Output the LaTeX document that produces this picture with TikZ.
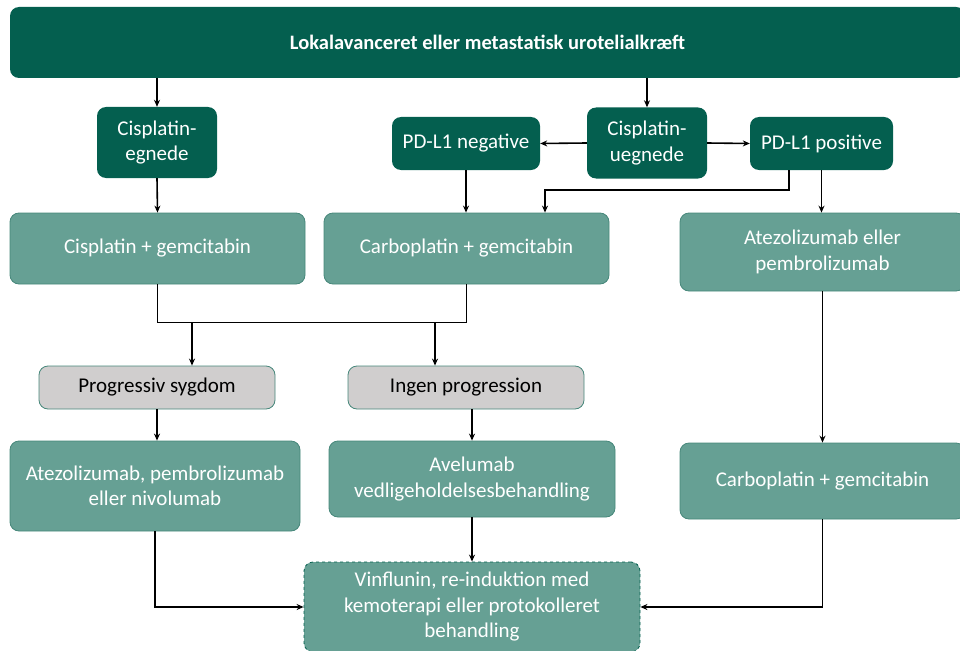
\documentclass[tikz,border=0pt]{standalone}
\usepackage{fontspec}
\setmainfont{Carlito}
\usetikzlibrary{arrows.meta}

\definecolor{darkgreen}{RGB}{4,95,79}
\definecolor{lightteal}{RGB}{102,160,148}
\definecolor{tealedge}{RGB}{70,135,122}
\definecolor{greybox}{RGB}{208,206,206}

\tikzset{%
				every box/.style={
					rectangle,
					rounded corners=9pt,
					align=center,
					inner sep=0pt,
					font=\fontsize{21}{25.5}\selectfont
				},
				box dark/.style={
					fill=darkgreen,
					text=white
				},
				box light/.style={
					fill=lightteal,
					draw=tealedge,
					line width=0.8pt,
					text=white
				},
				box grey/.style={
					fill=greybox,
					draw=tealedge,
					line width=0.8pt,
					text=black
				},
				box open/.style={
					fill=lightteal,
					draw=darkgreen,
					dashed,
					line width=0.8pt,
					text=white
				},
				link/.style={
					line width=1.6pt,
					-{Stealth[length=7pt,width=6pt]}
				},
			}

\begin{document}
\begin{tikzpicture}[x=1pt, y=-1pt]
			
			\useasboundingbox (0,0) rectangle (960,650);
			
			% top bar
			\node [every box, box dark, minimum width=955pt, minimum height=71pt,
			font=\fontsize{20.5}{24}\selectfont\bfseries] (top) at (487.5,42.5)
			{Lokalavanceret eller metastatisk urotelialkræft};
			
			% second row
			\node [every box, box dark, minimum width=120pt, minimum height=71pt] (egnede) at (157,142.5) {Cisplatin-\\egnede};
			\node [every box, box dark, minimum width=120pt, minimum height=71pt] (uegnede) at (647,143) {Cisplatin-\\uegnede};
			\node [every box, box dark, minimum width=148pt, minimum height=53pt] (neg) at (466,143.5) {PD-L1 negative};
			\node [every box, box dark, minimum width=143pt, minimum height=53pt] (pos) at (821.5,143.5) {PD-L1 positive};
			
			% first line treatment
			\node [every box, box light, minimum width=295pt, minimum height=71pt] (cisgem) at (157.5,248.5) {Cisplatin + gemcitabin};
			\node [every box, box light, minimum width=285pt, minimum height=71pt] (carbo1) at (466.5,248.5) {Carboplatin + gemcitabin};
			\node [every box, box light, minimum width=285pt, minimum height=78pt] (atezo1) at (822.5,252) {Atezolizumab eller\\pembrolizumab};
			
			% response
			\node [every box, box grey, minimum width=236pt, minimum height=43pt] (prog) at (157,387.5) {Progressiv sygdom};
			\node [every box, box grey, minimum width=236pt, minimum height=43pt] (ingen) at (466,387.5) {Ingen progression};
			
			% second line
			\node [every box, box light, minimum width=290pt, minimum height=90pt] (atezo2) at (155,486) {Atezolizumab, pembrolizumab\\eller nivolumab};
			\node [every box, box light, minimum width=286pt, minimum height=76pt] (avel) at (472,479) {Avelumab\\vedligeholdelsesbehandling};
			\node [every box, box light, minimum width=285pt, minimum height=76pt] (carbo2) at (822.5,481) {Carboplatin + gemcitabin};
			
			% later line
			\node [every box, box open, minimum width=336pt, minimum height=90pt] (final) at (472,607) {Vinflunin, re-induktion med\\kemoterapi eller protokolleret\\behandling};
			
			
			\foreach \n in {egnede, uegnede}
			\draw [link] (\n.north |- top.south) -- (\n.north);
			
			\draw [link] (uegnede.west) -- (neg.east);
			\draw [link] (uegnede.east) -- (pos.west);
			
			\draw [link] (egnede.south) -- (cisgem.north);
			\draw [link] (neg.south) -- (neg.south |- carbo1.north);
			\draw [link] ([xshift=-32.5pt]pos.south) -- ++(0,20) -| ([xshift=78.5pt]carbo1.north);
			\draw [link] (pos.south) -- (pos.south |- atezo1.north);
			
			\draw [line width=1.6pt] (cisgem.south) -- ++(0,38) coordinate (merge) -| (carbo1.south);
			\coordinate (progin) at ([xshift=35pt]prog.north);
			\coordinate (ingenin) at ([xshift=-31pt]ingen.north);
			\foreach \n in {progin, ingenin}
			\draw [link] (\n |- merge) -- (\n);
			
			\draw [link] (prog.south) -- (prog.south |- atezo2.north);
			\draw [link] (avel.north |- ingen.south) -- (avel.north);
			\draw [link] (atezo1.south) -- (carbo2.north);
			
			\draw [link] (avel.south) -- (final.north);
			\draw [link] (atezo2.south) |- (final.west);
			\draw [link] (carbo2.south) |- (final.east);
			
			\end{tikzpicture}
\end{document}
